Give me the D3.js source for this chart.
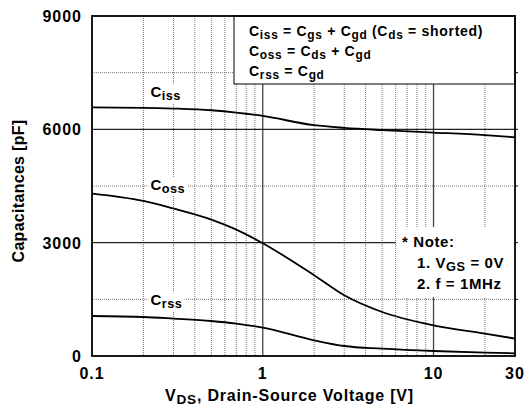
<!DOCTYPE html>
<html>
<head>
<meta charset="utf-8">
<script src="https://cdn.jsdelivr.net/npm/d3@7"></script>
<style>
  body { margin: 0; background: #fff; }
  text { font-family: "Liberation Sans", Arial, sans-serif; font-weight: bold; fill: #000; }
</style>
</head>
<body>
<script>
// values
var vds  = [0.1, 0.2, 0.3, 0.5, 0.7, 1, 2, 3, 5, 10, 20, 30];
var ciss = [6580, 6570, 6550, 6505, 6445, 6355, 6110, 6040, 5980, 5915, 5845, 5790];
var coss = [4300, 4105, 3905, 3612, 3347, 2985, 2137, 1607, 1165, 813, 593, 460];
var crss = [1059, 1033, 990, 927, 858, 752, 416, 265, 196, 132, 90, 71];

var xTicks = [0.1, 1, 10, 30];
var yTicks = [0, 3000, 6000, 9000];
var yMinor = [1500, 4500, 7500];
var xMinor = [0.2, 0.3, 0.4, 0.5, 0.6, 0.7, 0.8, 0.9, 2, 3, 4, 5, 6, 7, 8, 9, 20];

var margin = {top: 16, right: 10, bottom: 51, left: 92},
    W = 525, H = 407,
    width = W - margin.left - margin.right,
    height = H - margin.top - margin.bottom;

var x = d3.scaleLog().domain([0.1, 30]).range([0, width]);
var y = d3.scaleLinear().domain([0, 9000]).range([height, 0]);

var svg = d3.select("body").append("svg")
    .attr("width", W).attr("height", H);
var g = svg.append("g")
    .attr("transform", "translate(" + margin.left + "," + margin.top + ")");

// minor dotted grid
g.selectAll(".vminor").data(xMinor).enter().append("line")
    .attr("x1", d => x(d)).attr("x2", d => x(d))
    .attr("y1", 0).attr("y2", height)
    .attr("stroke", "#777").attr("stroke-width", 1).attr("stroke-dasharray", "1,1");
g.selectAll(".hminor").data(yMinor).enter().append("line")
    .attr("x1", 0).attr("x2", width)
    .attr("y1", d => y(d)).attr("y2", d => y(d))
    .attr("stroke", "#777").attr("stroke-width", 1).attr("stroke-dasharray", "1,1");

// major solid grid
g.selectAll(".vmajor").data([1, 10]).enter().append("line")
    .attr("x1", d => x(d)).attr("x2", d => x(d))
    .attr("y1", 0).attr("y2", height)
    .attr("stroke", "#444").attr("stroke-width", 1.3);
g.selectAll(".hmajor").data([3000, 6000]).enter().append("line")
    .attr("x1", 0).attr("x2", width)
    .attr("y1", d => y(d)).attr("y2", d => y(d))
    .attr("stroke", "#222").attr("stroke-width", 1.2);

// right side small ticks
g.selectAll(".rtick").data([1500, 3000, 4500, 6000, 7500]).enter().append("line")
    .attr("x1", width).attr("x2", width + 3)
    .attr("y1", d => y(d)).attr("y2", d => y(d))
    .attr("stroke", "#000").attr("stroke-width", 1);

// curves
var line = d3.line()
    .x(d => x(d[0]))
    .y(d => y(d[1]))
    .curve(d3.curveMonotoneX);

[ciss, coss, crss].forEach(function(s) {
  g.append("path")
      .datum(vds.map((v, i) => [v, s[i]]))
      .attr("fill", "none")
      .attr("stroke", "#000")
      .attr("stroke-width", 1.8)
      .attr("d", line);
});

// helper: text with subscript parts [[text, isSub], ...]
function richText(sel, parts, size) {
  var inSub = false;
  parts.forEach(function(p) {
    var t = sel.append("tspan").text(p[0]);
    if (p[1]) { t.attr("font-size", size * 0.85).attr("dy", 3); inSub = true; }
    else { t.attr("font-size", size).attr("dy", inSub ? -3 : 0); inSub = false; }
  });
}

// curve labels with white background
var curveLabels = [
  {name: "iss", v: 0.2, c: 6950},
  {name: "oss", v: 0.2, c: 4500},
  {name: "rss", v: 0.2, c: 1450}
];
curveLabels.forEach(function(l) {
  var lg = g.append("g");
  var tx = lg.append("text")
      .attr("x", x(l.v) + 7).attr("y", y(l.c) + 4)
      .attr("letter-spacing", 0.5);
  richText(tx, [["C", false], [l.name, true]], 15);
  var bb = tx.node().getBBox();
  lg.insert("rect", "text")
      .attr("x", bb.x - 2).attr("y", bb.y + 1)
      .attr("width", bb.width + 4).attr("height", bb.height - 1)
      .attr("fill", "#fff");
});

// legend box (top right)
g.append("rect")
    .attr("x", 142).attr("y", 0)
    .attr("width", width - 142).attr("height", 68)
    .attr("fill", "#fff").attr("stroke", "#000").attr("stroke-width", 1);
var legendLines = [
  [["C", false], ["iss", true], [" = C", false], ["gs", true], [" + C", false], ["gd", true], [" (C", false], ["ds", true], [" = shorted)", false]],
  [["C", false], ["oss", true], [" = C", false], ["ds", true], [" + C", false], ["gd", true]],
  [["C", false], ["rss", true], [" = C", false], ["gd", true]]
];
legendLines.forEach(function(parts, i) {
  var t = g.append("text").attr("x", 157).attr("y", 20 + i * 20)
      .attr("letter-spacing", 0.7);
  richText(t, parts, 14);
});

// note box
g.append("rect")
    .attr("x", 304).attr("y", 211)
    .attr("width", width - 305).attr("height", 70)
    .attr("fill", "#fff");
g.append("text").attr("x", 310).attr("y", 231).attr("font-size", 15)
    .attr("letter-spacing", 0.6).text("* Note:");
var n2 = g.append("text").attr("x", 325).attr("y", 252).attr("letter-spacing", 0.6);
richText(n2, [["1. V", false], ["GS", true], [" = 0V", false]], 15);
g.append("text").attr("x", 325).attr("y", 273).attr("font-size", 15)
    .attr("letter-spacing", 0.6).text("2. f = 1MHz");

// frame
g.append("rect")
    .attr("x", 0).attr("y", 0).attr("width", width).attr("height", height)
    .attr("fill", "none").attr("stroke", "#000").attr("stroke-width", 1.8);

// axes labels
g.selectAll(".ylab").data(yTicks).enter().append("text")
    .attr("x", -10).attr("y", d => y(d) + 6)
    .attr("text-anchor", "end").attr("font-size", 16)
    .attr("letter-spacing", 1)
    .text(d => d);
g.selectAll(".xlab").data(xTicks).enter().append("text")
    .attr("x", d => x(d)).attr("y", height + 23)
    .attr("text-anchor", "middle").attr("font-size", 16)
    .attr("letter-spacing", 1)
    .text(d => d);

// axis titles
var xt = g.append("text")
    .attr("x", width / 2 - 14).attr("y", height + 45)
    .attr("text-anchor", "middle")
    .attr("letter-spacing", 0.8);
richText(xt, [["V", false], ["DS", true], [", Drain-Source Voltage [V]", false]], 16);

svg.append("text")
    .attr("transform", "translate(24,191) rotate(-90)")
    .attr("text-anchor", "middle").attr("font-size", 16)
    .attr("letter-spacing", 0.3)
    .text("Capacitances [pF]");
</script>
</body>
</html>
